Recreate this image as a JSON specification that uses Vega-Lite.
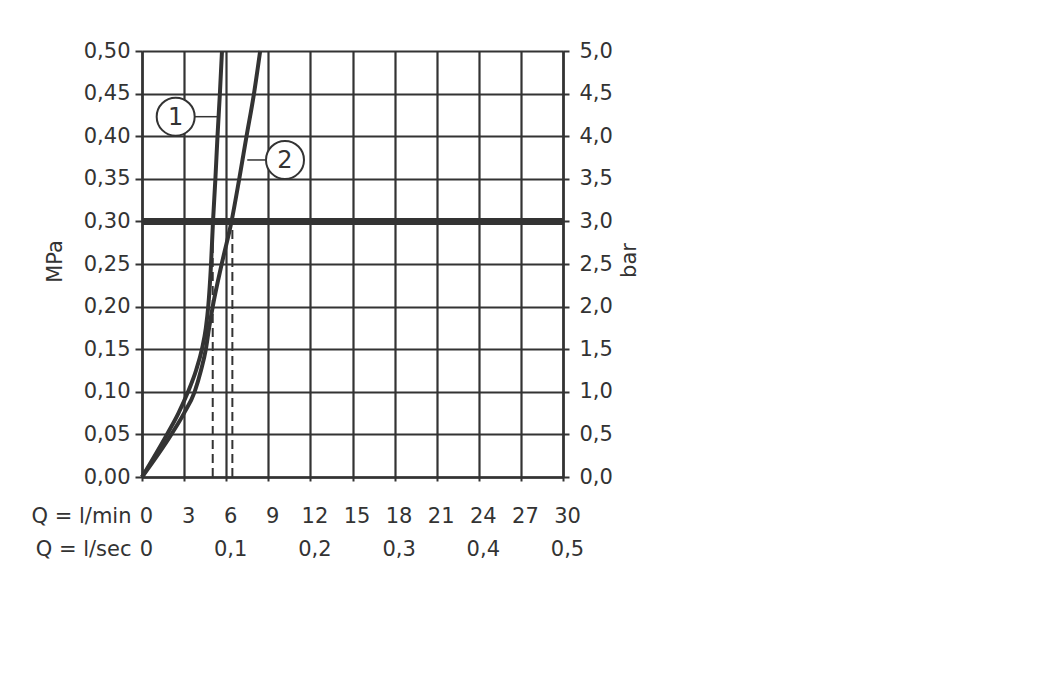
{
  "$schema": "https://vega.github.io/schema/vega-lite/v6.json",
  "width": 421,
  "height": 426,
  "autosize": {"type": "none"},
  "padding": {"left": 142, "top": 51, "right": 496, "bottom": 198},
  "background": "white",
  "config": {
    "font": "DejaVu Sans",
    "view": {"stroke": null},
    "axis": {
      "labelFont": "DejaVu Sans",
      "titleFont": "DejaVu Sans",
      "labelFontSize": 21,
      "titleFontSize": 21,
      "titleFontWeight": "normal",
      "labelColor": "#333333",
      "titleColor": "#333333",
      "domainColor": "#333333",
      "domainWidth": 2.5,
      "tickColor": "#333333",
      "tickWidth": 2,
      "gridColor": "#333333",
      "gridWidth": 2.2,
      "gridOpacity": 1,
      "labelOverlap": false,
      "labelBound": false,
      "labelFlush": false
    }
  },
  "datasets": {
    "curves": [
      {"curve": "1", "flow": 0, "mpa": 0},
      {"curve": "1", "flow": 1.78, "mpa": 0.05},
      {"curve": "1", "flow": 2.6, "mpa": 0.075},
      {"curve": "1", "flow": 3.28, "mpa": 0.1},
      {"curve": "1", "flow": 3.85, "mpa": 0.125},
      {"curve": "1", "flow": 4.27, "mpa": 0.15},
      {"curve": "1", "flow": 4.55, "mpa": 0.175},
      {"curve": "1", "flow": 4.72, "mpa": 0.2},
      {"curve": "1", "flow": 4.92, "mpa": 0.25},
      {"curve": "1", "flow": 5.06, "mpa": 0.3},
      {"curve": "1", "flow": 5.23, "mpa": 0.35},
      {"curve": "1", "flow": 5.38, "mpa": 0.4},
      {"curve": "1", "flow": 5.55, "mpa": 0.45},
      {"curve": "1", "flow": 5.7, "mpa": 0.5},
      {"curve": "2", "flow": 0, "mpa": 0},
      {"curve": "2", "flow": 2.09, "mpa": 0.05},
      {"curve": "2", "flow": 3.0, "mpa": 0.075},
      {"curve": "2", "flow": 3.75, "mpa": 0.1},
      {"curve": "2", "flow": 4.2, "mpa": 0.125},
      {"curve": "2", "flow": 4.55, "mpa": 0.15},
      {"curve": "2", "flow": 4.78, "mpa": 0.175},
      {"curve": "2", "flow": 5.04, "mpa": 0.2},
      {"curve": "2", "flow": 5.68, "mpa": 0.25},
      {"curve": "2", "flow": 6.38, "mpa": 0.3},
      {"curve": "2", "flow": 6.93, "mpa": 0.35},
      {"curve": "2", "flow": 7.45, "mpa": 0.4},
      {"curve": "2", "flow": 7.98, "mpa": 0.45},
      {"curve": "2", "flow": 8.42, "mpa": 0.5}
    ],
    "dashes": [
      {"flow": 5.04, "p0": 0, "p1": 0.295},
      {"flow": 6.44, "p0": 0, "p1": 0.295}
    ],
    "labels": [
      {"label": "1", "cx": 2.4, "cy": 0.4229, "lx1": 3.75, "lx2": 5.45},
      {"label": "2", "cx": 10.19, "cy": 0.3721, "lx1": 7.5, "lx2": 8.8}
    ],
    "pressure": [{"bar": 3.0}],
    "lsec": [{"q": 0}, {"q": 0.1}, {"q": 0.2}, {"q": 0.3}, {"q": 0.4}, {"q": 0.5}]
  },
  "layer": [
    {
      "layer": [
        {
          "data": {"name": "curves"},
          "mark": {"type": "line", "color": "#333333", "strokeWidth": 4, "interpolate": "monotone"},
          "encoding": {
            "x": {
              "field": "flow", "type": "quantitative",
              "scale": {"domain": [0, 30], "nice": false, "zero": false},
              "axis": {
                "values": [0, 3, 6, 9, 12, 15, 18, 21, 24, 27, 30],
                "grid": true,
                "tickSize": 4,
                "labelPadding": 41,
                "labelBaseline": "alphabetic",
                "labelOffset": 4,
                "title": "Q = l/min",
                "titleX": -11,
                "titleY": 45,
                "titleAlign": "right",
                "titleBaseline": "alphabetic",
                "titleAnchor": "start"
              }
            },
            "y": {
              "field": "mpa", "type": "quantitative",
              "scale": {"domain": [0, 0.5], "nice": false, "zero": false},
              "axis": {
                "values": [0, 0.05, 0.1, 0.15, 0.2, 0.25, 0.3, 0.35, 0.4, 0.45, 0.5],
                "grid": true,
                "tickSize": 7,
                "labelPadding": 5,
                "labelExpr": "replace(format(datum.value, '.2f'), '.', ',')",
                "title": "MPa",
                "titleAngle": 270,
                "titleX": -87,
                "titleY": 210,
                "titleAlign": "center",
                "titleBaseline": "middle"
              }
            },
            "detail": {"field": "curve"},
            "order": {"field": "mpa", "type": "quantitative"}
          }
        },
        {
          "data": {"name": "dashes"},
          "mark": {"type": "rule", "color": "#333333", "strokeWidth": 2, "strokeDash": [9, 5]},
          "encoding": {
            "x": {"field": "flow", "type": "quantitative"},
            "y": {"field": "p0", "type": "quantitative"},
            "y2": {"field": "p1"}
          }
        },
        {
          "data": {"name": "labels"},
          "mark": {"type": "rule", "color": "#333333", "strokeWidth": 1.5},
          "encoding": {
            "x": {"field": "lx1", "type": "quantitative"},
            "x2": {"field": "lx2"},
            "y": {"field": "cy", "type": "quantitative"}
          }
        },
        {
          "data": {"name": "labels"},
          "mark": {"type": "point", "shape": "circle", "size": 1444, "filled": true, "fill": "white", "stroke": "#333333", "strokeWidth": 2, "opacity": 1},
          "encoding": {
            "x": {"field": "cx", "type": "quantitative"},
            "y": {"field": "cy", "type": "quantitative"}
          }
        },
        {
          "data": {"name": "labels"},
          "mark": {"type": "text", "font": "DejaVu Sans", "fontSize": 24, "color": "#333333", "baseline": "middle", "align": "center", "dy": 1},
          "encoding": {
            "x": {"field": "cx", "type": "quantitative"},
            "y": {"field": "cy", "type": "quantitative"},
            "text": {"field": "label"}
          }
        }
      ]
    },
    {
      "layer": [
        {
          "data": {"name": "pressure"},
          "mark": {"type": "rule", "color": "#333333", "strokeWidth": 7},
          "encoding": {
            "y": {
              "field": "bar", "type": "quantitative",
              "scale": {"domain": [0, 5], "nice": false, "zero": false},
              "axis": {
                "orient": "right",
                "values": [0, 0.5, 1, 1.5, 2, 2.5, 3, 3.5, 4, 4.5, 5],
                "grid": false,
                "tickSize": 6,
                "labelPadding": 10,
                "labelExpr": "replace(format(datum.value, '.1f'), '.', ',')",
                "title": "bar",
                "titleAngle": 270,
                "titleX": 66,
                "titleY": 209,
                "titleAlign": "center",
                "titleBaseline": "middle"
              }
            }
          }
        },
        {
          "data": {"name": "lsec"},
          "mark": {"type": "point", "opacity": 0},
          "encoding": {
            "x": {
              "field": "q", "type": "quantitative",
              "scale": {"domain": [0, 0.5], "nice": false, "zero": false},
              "axis": {
                "orient": "bottom",
                "offset": 33,
                "values": [0, 0.1, 0.2, 0.3, 0.4, 0.5],
                "grid": false,
                "domain": false,
                "tickSize": 4,
                "tickOpacity": 0,
                "labelPadding": 41,
                "labelBaseline": "alphabetic",
                "labelOffset": 4,
                "labelExpr": "datum.value == 0 ? '0' : replace(format(datum.value, '.1f'), '.', ',')",
                "title": "Q = l/sec",
                "titleX": -11,
                "titleY": 45,
                "titleAlign": "right",
                "titleBaseline": "alphabetic",
                "titleAnchor": "start"
              }
            }
          }
        }
      ]
    }
  ],
  "resolve": {"scale": {"x": "independent", "y": "independent"}}
}
